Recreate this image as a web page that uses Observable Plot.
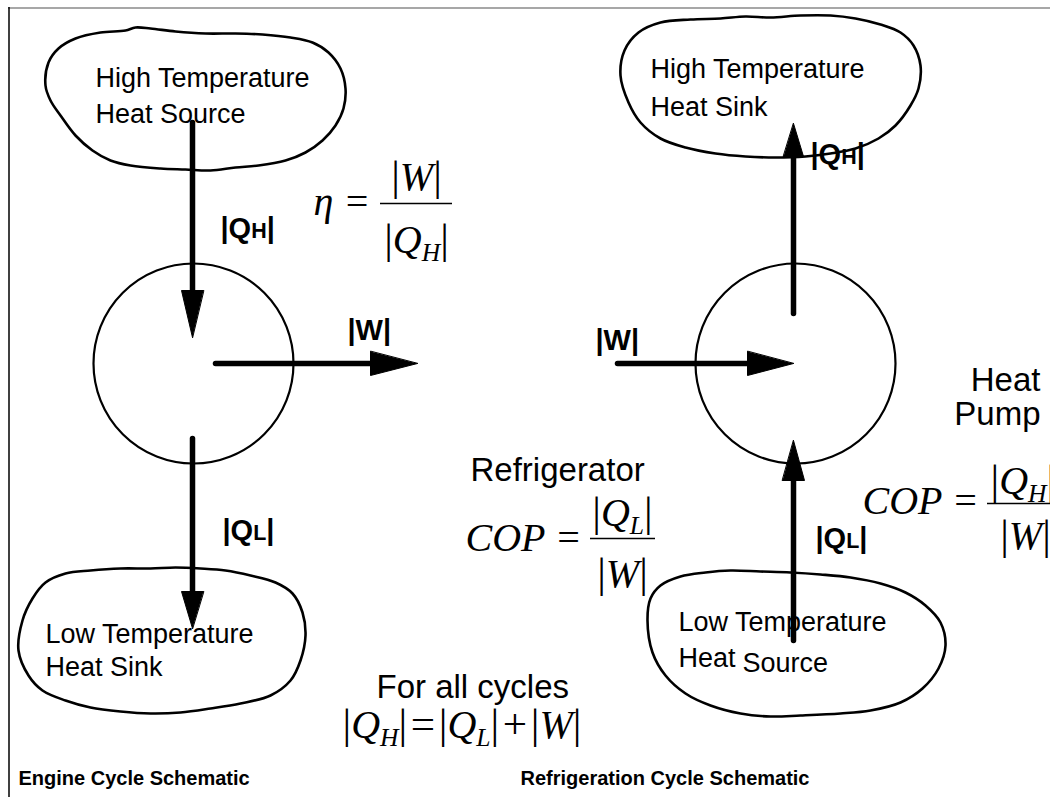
<!DOCTYPE html>
<html><head><meta charset="utf-8">
<script src="https://cdn.jsdelivr.net/npm/d3@7"></script>
<script src="https://cdn.jsdelivr.net/npm/@observablehq/plot@0.6"></script>
<style>html,body{margin:0;padding:0;background:#fff;overflow:hidden}</style>
</head><body><div id="chart"></div>
<script>
// ---------- data ----------
const frameTop = [{y: 7.5, x1: 8, x2: 1050}];
const frameLeft = [{x: 8.5, y1: 7, y2: 797}];

const cloudTL = [[45,85],[48,62],[58,48],[75,38],[100,32],[125,30],[135,27],[150,28],[175,31],[205,33],[235,33],[262,34],[290,37],[312,42],[328,52],[340,68],[345,88],[343,108],[335,125],[322,140],[305,152],[285,160],[258,165],[235,167],[210,170],[185,169],[160,168],[130,165],[110,160],[92,150],[75,135],[60,115],[50,100]];
const cloudTR = [[620,75],[624,50],[638,32],[660,22],[690,19],[720,18],[745,16],[770,17],[800,15],[830,15],[855,18],[880,24],[900,32],[913,45],[920,65],[918,88],[910,105],[895,125],[878,138],[855,148],[830,153],[805,156],[775,157],[745,156],[715,153],[685,147],[660,138],[640,122],[628,102]];
const cloudBL = [[18,650],[22,620],[32,598],[45,582],[65,573],[90,570],[120,568],[150,568],[175,567],[200,568],[225,570],[250,575],[275,582],[292,593],[302,612],[305,635],[300,660],[290,680],[270,695],[240,703],[210,708],[180,712],[150,713],[120,711],[90,707],[65,700],[42,690],[28,675]];
const cloudBR = [[647,620],[650,598],[660,585],[680,576],[705,572],[730,570],[760,571],[790,572],[820,574],[850,577],[880,583],[905,592],[925,605],[940,622],[945,645],[938,668],[922,688],[900,702],[870,710],[840,713],[800,715],[770,716],[740,713],[710,705],[685,693],[665,675],[652,652]];

const cycles = [{x: 193, y: 363, r: 100}, {x: 795, y: 363, r: 100}];

const arrows = [
  {id: "engQH", x1: 192, y1: 122, x2: 192, y2: 337, len: 47, half: 11},
  {id: "engW",  x1: 215, y1: 363, x2: 417, y2: 363, len: 47, half: 12},
  {id: "engQL", x1: 192, y1: 438, x2: 192, y2: 628, len: 37, half: 11},
  {id: "refW",  x1: 617, y1: 363, x2: 793, y2: 363, len: 46, half: 12},
  {id: "refQH", x1: 793, y1: 313, x2: 793, y2: 123, len: 33, half: 10},
  {id: "refQL", x1: 793, y1: 640, x2: 793, y2: 440, len: 40, half: 11}
];

const cloudLabels = [
  {t: "High Temperature", x: 95, b: 86},
  {t: "Heat Source", x: 95, b: 122},
  {t: "High Temperature", x: 650, b: 77},
  {t: "Heat Sink", x: 650, b: 115},
  {t: "Low Temperature", x: 45, b: 642},
  {t: "Heat Sink", x: 45, b: 675},
  {t: "Low Temperature", x: 678, b: 630},
  {t: "Heat", x: 678, b: 666},
  {t: "Source", x: 742, b: 671}
];

const flowLabels = [
  {t: "|Q~H|", x: 220, b: 237},
  {t: "|W|", x: 347, b: 339},
  {t: "|Q~L|", x: 222, b: 539},
  {t: "|W|", x: 595, b: 349},
  {t: "|Q~H|", x: 810, b: 163},
  {t: "|Q~L|", x: 815, b: 547}
];

const bigLabels = [
  {t: "Refrigerator", x: 470, b: 480, anchor: "start"},
  {t: "Heat", x: 1040, b: 390, anchor: "end"},
  {t: "Pump", x: 1040, b: 424, anchor: "end"},
  {t: "For all cycles", x: 376, b: 697, anchor: "start"}
];

const mathText = [
  {t: "η =", x: 313, b: 214, anchor: "start"},
  {t: "|W|", x: 416, b: 189, anchor: "middle"},
  {t: "|Q_H|", x: 416, b: 252, anchor: "middle"},
  {t: "COP =", x: 465, b: 550, anchor: "start"},
  {t: "|Q_L|", x: 622, b: 525, anchor: "middle"},
  {t: "|W|", x: 622, b: 586, anchor: "middle"},
  {t: "COP =", x: 862, b: 513, anchor: "start"},
  {t: "|Q_H|", x: 990, b: 493, anchor: "start"},
  {t: "|W|", x: 1025, b: 548, anchor: "middle"},
  {t: "|Q_H|\u200A=\u200A|Q_L|\u200A+\u200A|W|", x: 342, b: 737, anchor: "start"}
];

const fractionBars = [
  {y: 203, x1: 380, x2: 452},
  {y: 538, x1: 590, x2: 655},
  {y: 503, x1: 987, x2: 1050}
];

const titles = [
  {t: "Engine Cycle Schematic", x: 18, b: 784},
  {t: "Refrigeration Cycle Schematic", x: 520, b: 784}
];

// ---------- derived tables ----------
const cloudPts = [["tl", cloudTL], ["tr", cloudTR], ["bl", cloudBL], ["br", cloudBR]]
  .flatMap(([id, pts]) => pts.map(([x, y]) => ({id, x, y})));

const heads = arrows.flatMap(a => {
  const dx = a.x2 - a.x1, dy = a.y2 - a.y1, L = Math.hypot(dx, dy);
  const ux = dx / L, uy = dy / L, bx = a.x2 - ux * a.len, by = a.y2 - uy * a.len;
  return [
    {id: a.id, x: a.x2, y: a.y2},
    {id: a.id, x: bx - uy * a.half, y: by + ux * a.half},
    {id: a.id, x: bx + uy * a.half, y: by - ux * a.half}
  ];
});
const shafts = arrows.map(a => {
  const dx = a.x2 - a.x1, dy = a.y2 - a.y1, L = Math.hypot(dx, dy);
  return {x1: a.x1, y1: a.y1, x2: a.x2 - dx / L * (a.len - 4), y2: a.y2 - dy / L * (a.len - 4)};
});

const SANS = "Arial, 'Liberation Sans', sans-serif";
const SERIF = "'Times New Roman', 'Liberation Serif', serif";
const base = (size) => (d) => d.b - 0.32 * size;
const anchored = (data, size, opts) => ["start", "middle", "end"].map(a =>
  Plot.text(data, {filter: (d) => d.anchor === a, x: "x", y: base(size), text: "t", textAnchor: a, fontSize: size, fill: "black", ...opts}));

const chart = Plot.plot({
  width: 1050, height: 797, margin: 0,
  x: {domain: [0, 1050], range: [0, 1050], axis: null},
  y: {domain: [0, 797], range: [0, 797], axis: null},
  r: {type: "identity"},
  style: {background: "white", color: "black"},
  marks: [
    Plot.ruleY(frameTop, {y: "y", x1: "x1", x2: "x2", stroke: "#8a8a8a", strokeWidth: 1.5}),
    Plot.ruleX(frameLeft, {x: "x", y1: "y1", y2: "y2", stroke: "black", strokeWidth: 1.5}),
    Plot.line(cloudPts, {x: "x", y: "y", z: "id", curve: "catmull-rom-closed", stroke: "black", strokeWidth: 2.6, fill: "none"}),
    Plot.dot(cycles, {x: "x", y: "y", r: "r", stroke: "black", strokeWidth: 2.2, fill: "none"}),
    Plot.link(shafts, {x1: "x1", y1: "y1", x2: "x2", y2: "y2", stroke: "black", strokeWidth: 5.5, strokeLinecap: "round"}),
    Plot.line(heads, {x: "x", y: "y", z: "id", curve: "linear-closed", fill: "black", stroke: "black", strokeWidth: 1}),
    Plot.ruleY(fractionBars, {y: "y", x1: "x1", x2: "x2", stroke: "black", strokeWidth: 1.6}),
    Plot.text(cloudLabels, {x: "x", y: base(27), text: "t", textAnchor: "start", fontSize: 27, fontFamily: SANS, fill: "black"}),
    Plot.text(flowLabels, {x: "x", y: base(29), text: "t", textAnchor: "start", fontSize: 29, fontWeight: "bold", fontFamily: SANS, fill: "black"}),
    ...anchored(bigLabels, 33, {fontFamily: SANS}),
    ...anchored(mathText, 40, {fontStyle: "italic", fontFamily: SERIF}),
    Plot.text(titles, {x: "x", y: base(20), text: "t", textAnchor: "start", fontSize: 20, fontWeight: "bold", fontFamily: SANS, fill: "black"})
  ]
});
document.getElementById("chart").appendChild(chart);

// rich text: "_X" subscript, "~X" small capital, upright bars/operators in math
function rich(svg) {
  svg.querySelectorAll("text").forEach(el => {
    const s = el.textContent;
    if (!/[|_~]/.test(s)) return;
    const cs = getComputedStyle(el);
    const fs = parseFloat(cs.fontSize);
    const math = cs.fontStyle === "italic";
    while (el.firstChild) el.removeChild(el.firstChild);
    el.style.whiteSpace = "pre";
    const tokens = [];
    for (let i = 0; i < s.length; i++) {
      const c = s[i];
      if ((c === "_" || c === "~") && i + 1 < s.length) { tokens.push({t: s[i + 1], kind: c}); i++; continue; }
      const kind = math && /[|=+ \u2009\u200A]/.test(c) ? "up" : "n";
      const last = tokens[tokens.length - 1];
      if (last && last.kind === kind) last.t += c; else tokens.push({t: c, kind});
    }
    let shift = 0;
    for (const tk of tokens) {
      const ts = document.createElementNS("http://www.w3.org/2000/svg", "tspan");
      ts.textContent = tk.t;
      let dy = 0;
      if (tk.kind === "_") { ts.setAttribute("font-size", fs * 0.64); dy = fs * 0.2 - shift; shift = fs * 0.2; }
      else {
        if (tk.kind === "~") ts.setAttribute("font-size", fs * 0.74);
        if (tk.kind === "up") { ts.setAttribute("font-style", "normal"); ts.setAttribute("font-size", fs * 1.08); }
        dy = -shift; shift = 0;
      }
      if (dy) ts.setAttribute("dy", dy);
      el.appendChild(ts);
    }
  });
}
rich(chart);
</script></body></html>
